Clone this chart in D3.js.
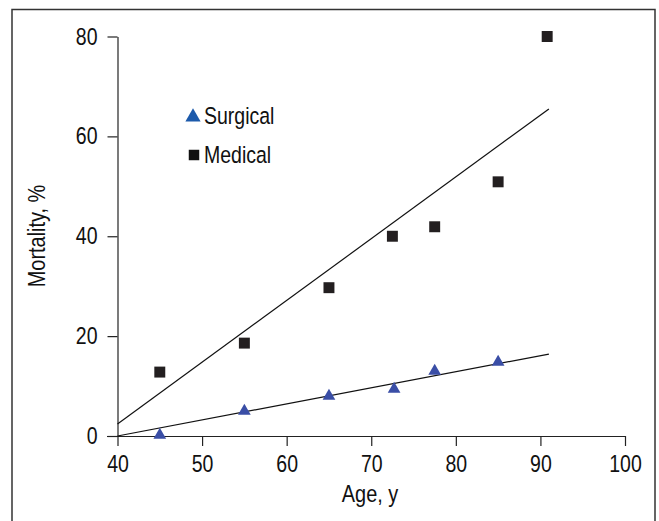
<!DOCTYPE html>
<head>
<meta charset="utf-8">
<title>Mortality by age</title>
<style>
  body { margin: 0; background: #fff; }
  svg { display: block; }
  .lbl { font-family: "Liberation Sans", Arial, sans-serif; fill: #111; }
  .axis text { font-family: "Liberation Sans", Arial, sans-serif; font-size: 23.5px; fill: #111; }
  .axis path, .axis line { stroke: #222; stroke-width: 1.2; }
</style>
</head>
<body>
<script src="https://d3js.org/d3.v7.min.js"></script>
<script>

// surgical patients
var surgAge = [45, 55, 65, 72.7, 77.5, 85];
var surgMort = [0, 4.8, 7.8, 9.2, 12.8, 14.6];

// medical patients
var medAge = [45, 55, 65, 72.5, 77.5, 85, 90.8];
var medMort = [12.8, 18.6, 29.7, 40, 41.9, 50.9, 80];

// fitted lines (end points)
var fitAge = [40, 91];
var surgFit = [0, 16.4];
var medFit = [2.4, 65.5];

var xTicks = [40, 50, 60, 70, 80, 90, 100];
var yTicks = [0, 20, 40, 60, 80];

var width = 659, height = 521;
var squeeze = 0.83; // condensed look

var svg = d3.select("body").append("svg")
    .attr("width", width)
    .attr("height", height);

// outer frame (open at the bottom)
svg.append("path")
    .attr("d", "M12,521V9.5H655V521")
    .attr("fill", "none")
    .attr("stroke", "#333")
    .attr("stroke-width", 1.5);

var x = d3.scaleLinear().domain([40, 100]).range([117.5, 625]);
var y = d3.scaleLinear().domain([0, 80]).range([436, 36.5]);

var gx = svg.append("g")
    .attr("class", "axis")
    .attr("transform", "translate(0," + y(0) + ")")
    .call(d3.axisBottom(x).tickValues(xTicks).tickSize(10).tickSizeOuter(0).tickPadding(9));
gx.select(".domain").attr("d", "M107,0.5H625");
gx.selectAll("text").attr("transform", "scale(" + squeeze + ",1)");

var gy = svg.append("g")
    .attr("class", "axis")
    .attr("transform", "translate(" + x(40) + ",0)")
    .call(d3.axisLeft(y).tickValues(yTicks).tickSize(10).tickSizeOuter(0).tickPadding(12));
gy.selectAll("text")
    .attr("x", -20 / squeeze)
    .attr("transform", "scale(" + squeeze + ",1)");

// trend lines
var line = d3.line()
    .x(function(d) { return x(d[0]); })
    .y(function(d) { return y(d[1]); });

svg.append("path")
    .attr("d", line(d3.zip(fitAge, medFit)))
    .attr("fill", "none")
    .attr("stroke", "#111")
    .attr("stroke-width", 1.2);

svg.append("path")
    .attr("d", line(d3.zip(fitAge, surgFit)))
    .attr("fill", "none")
    .attr("stroke", "#111")
    .attr("stroke-width", 1.2);

var tri = d3.symbol().type(d3.symbolTriangle).size(70);
var sq = d3.symbol().type(d3.symbolSquare).size(120);

svg.append("g").selectAll("path")
    .data(d3.zip(medAge, medMort))
  .enter().append("path")
    .attr("d", sq)
    .attr("transform", function(d) { return "translate(" + x(d[0]) + "," + y(d[1]) + ")"; })
    .attr("fill", "#231f20");

svg.append("g").selectAll("path")
    .data(d3.zip(surgAge, surgMort))
  .enter().append("path")
    .attr("d", tri)
    .attr("transform", function(d) { return "translate(" + x(d[0]) + "," + (y(d[1]) - 1) + ")"; })
    .attr("fill", "#3a4ea6");

// legend
var legend = svg.append("g");
legend.append("path")
    .attr("d", d3.symbol().type(d3.symbolTriangle).size(100))
    .attr("transform", "translate(193,117)")
    .attr("fill", "#1c5aab");
legend.append("text")
    .attr("class", "lbl")
    .attr("transform", "translate(204,116) scale(" + squeeze + ",1)")
    .attr("dy", "0.35em")
    .style("font-size", "23.5px")
    .text("Surgical");
legend.append("path")
    .attr("d", d3.symbol().type(d3.symbolSquare).size(110))
    .attr("transform", "translate(194,155)")
    .attr("fill", "#111");
legend.append("text")
    .attr("class", "lbl")
    .attr("transform", "translate(204,155) scale(" + squeeze + ",1)")
    .attr("dy", "0.35em")
    .style("font-size", "23.5px")
    .text("Medical");

// axis titles
svg.append("text")
    .attr("class", "lbl")
    .attr("transform", "translate(370,502) scale(" + squeeze + ",1)")
    .attr("text-anchor", "middle")
    .style("font-size", "24px")
    .text("Age, y");

svg.append("text")
    .attr("class", "lbl")
    .attr("transform", "translate(45,236) rotate(-90) scale(" + squeeze + ",1)")
    .attr("text-anchor", "middle")
    .style("font-size", "24px")
    .text("Mortality, %");

</script>
